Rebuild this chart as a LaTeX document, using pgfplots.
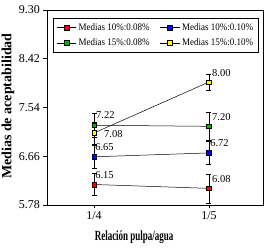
\documentclass[border=0pt]{standalone}
\usepackage{fontspec}
\setmainfont{Liberation Serif}
\newfontfamily\xlabfont[FakeStretch=0.64]{Liberation Serif}
\newfontfamily\legfont[FakeStretch=0.9]{Liberation Serif}
\usepackage{pgfplots}
\pgfplotsset{compat=1.18}

\definecolor{mred}{RGB}{255,0,0}
\definecolor{mblue}{RGB}{0,0,255}
\definecolor{mgreen}{RGB}{0,180,0}
\definecolor{myellow}{RGB}{255,255,0}

\pgfplotsset{
  series/.style={
    black, line width=0.5pt, mark=square*, mark size=2.3pt,
    mark options={fill=#1, draw=black, line width=0.4pt},
    error bars/.cd, y dir=both, y explicit,
    error bar style={black, line width=0.5pt},
    error mark options={black, line width=0.5pt, mark size=2.5pt, rotate=90},
  },
}

\begin{document}
\begin{tikzpicture}
\begin{axis}[
  scale only axis,
  width=216pt, height=195pt,
  xmin=0.591, xmax=2.47,
  ymin=5.78, ymax=9.30,
  xtick={1,2}, xticklabels={1/4,1/5},
  ytick={5.78,6.66,7.54,8.42,9.30},
  yticklabel style={/pgf/number format/.cd, fixed, fixed zerofill, precision=2},
  /pgf/number format/assume math mode=true,
  tick label style={font=\fontsize{12}{12}\selectfont},
  tick align=outside, xtick pos=bottom, ytick pos=left,
  major tick length=3.5pt,
  tick style={black, line width=0.6pt},
  axis line style={line width=0.8pt},
  xlabel={\xlabfont\bfseries Relación pulpa/agua},
  ylabel={\bfseries Medias de aceptabilidad},
  xlabel style={font=\fontsize{14}{14}\selectfont, at={(axis description cs:0.403,-0.164)}, anchor=center},
  ylabel style={font=\fontsize{14}{14}\selectfont, at={(axis description cs:-0.181,0.507)}, anchor=center},
  legend columns=2,
  legend style={at={(axis description cs:0.028,0.959)}, anchor=north west,
    font=\legfont\fontsize{10}{10}\selectfont, draw=black, line width=0.5pt,
    inner xsep=3pt, inner ysep=3pt, row sep=3pt,
    /tikz/every even column/.append style={column sep=8pt}},
  legend image code/.code={
    \draw[black, line width=0.5pt] (0cm,0cm) -- (0.7cm,0cm);
    \draw[mark repeat=2, mark phase=2] plot coordinates {(0cm,0cm) (0.35cm,0cm) (0.7cm,0cm)};
  },
  legend cell align=left,
  clip=false,
]
% 10% : 0.08%
\addplot[series=mred] coordinates {(1,6.15) +- (0,0.20) (2,6.08) +- (0,0.26)};
\addlegendentry{Medias 10\%:0.08\%}
% 10% : 0.10%
\addplot[series=mblue] coordinates {(1,6.65) +- (0,0.20) (2,6.72) +- (0,0.21)};
\addlegendentry{Medias 10\%:0.10\%}
% 15% : 0.08%
\addplot[series=mgreen] coordinates {(1,7.22) +- (0,0.22) (2,7.20) +- (0,0.26)};
\addlegendentry{Medias 15\%:0.08\%}
% 15% : 0.10%
\addplot[series=myellow] coordinates {(1,7.08) +- (0,0.20) (2,8.00) +- (0,0.14)};
\addlegendentry{Medias 15\%:0.10\%}

% value labels
\begin{scope}[every node/.style={anchor=west, inner sep=0pt, font=\fontsize{10.5}{10.5}\selectfont}]
\node at (axis cs:1.017,7.40) {7.22};
\node at (axis cs:1.087,7.06) {7.08};
\node at (axis cs:1.010,6.83) {6.65};
\node at (axis cs:1.010,6.32) {6.15};
\node at (axis cs:2.026,7.37) {7.20};
\node at (axis cs:2.010,6.90) {6.72};
\node at (axis cs:2.026,6.25) {6.08};
\node at (axis cs:2.026,8.17) {8.00};
\end{scope}
\coordinate (bbsw) at (rel axis cs:0,0);
\coordinate (bbne) at (rel axis cs:1,1);
\end{axis}
\pgfresetboundingbox
\path ([shift={(-47pt,-43pt)}]bbsw) rectangle ([shift={(3pt,10pt)}]bbne);
\end{tikzpicture}
\end{document}
